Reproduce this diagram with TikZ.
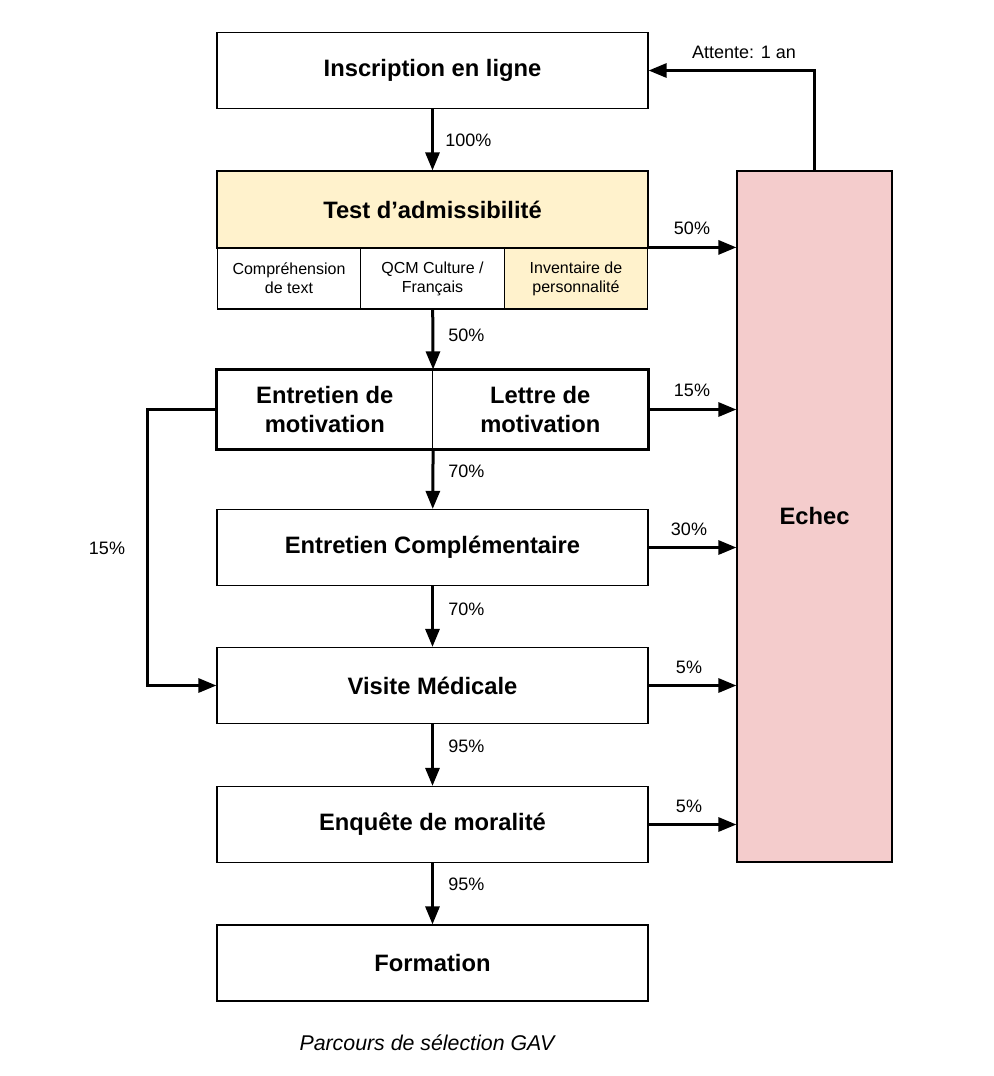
\documentclass[tikz,border=0pt]{standalone}
\usepackage{fontspec}
\setmainfont{Liberation Sans}
\usetikzlibrary{arrows.meta}

\definecolor{jaune}{HTML}{FFF2CC}
\definecolor{rose}{HTML}{F4CCCC}

\tikzset{
	etape/.style={shape=rectangle,draw=black,line width=0.9pt,inner sep=0pt,
		minimum width=323.25pt,minimum height=57pt,align=center,
		font=\fontsize{17.8}{21.75}\selectfont\bfseries},
	cellule/.style={shape=rectangle,draw=black,line width=0.9pt,inner sep=0pt,
		minimum width=107.75pt,minimum height=45.75pt,align=center,
		font=\fontsize{12}{14.25}\selectfont},
	fleche/.style={line width=2.25pt,-{Triangle[length=13.5pt,width=10.5pt]}},
	pct/.style={font=\fontsize{13.5}{16}\selectfont,inner sep=0pt}
}

\begin{document}
\begin{tikzpicture}[x=0.75pt,y=-0.75pt]
	\useasboundingbox (0,0) rectangle (994,1076);
	
	\node[etape] (ins) at (432.5, 70.5)     {Inscription en ligne};
	
	\node[etape,fill=jaune,minimum height=57.75pt] (test) at (432.5, 209.5)     {Test d’admissibilité};
	\node[cellule] (c1) at (289, 278.5)     {Compréhension\\de text};
	\node[cellule] (c2) at (432.5, 278.5)     {QCM Culture /\\Français};
	\node[cellule,fill=jaune] (c3) at (576, 278.5)     {Inventaire de\\personnalité};
	
	\node[etape,minimum width=161.6pt,minimum height=59.25pt] (em) at (324.75, 409.5)     {Entretien de\\motivation};
	\node[etape,minimum width=161.6pt,minimum height=59.25pt] (lm) at (540.25, 409.5)     {Lettre de\\motivation};
	\draw[line width=2.25pt] (em.north west) rectangle (lm.south east);
	
	\node[etape] (ec) at (432.5, 547.5)     {Entretien Complémentaire};
	\node[etape] (vm) at (432.5, 685.5)     {Visite Médicale};
	\node[etape] (enq) at (432.5, 824.5)     {Enquête de moralité};
	\node[etape] (form) at (432.5, 963)     {Formation};
	
	\node[etape,fill=rose,minimum width=116.25pt,minimum height=518.25pt] (echec) at (814.5, 516.5)     {Echec};
	
	\node[font=\fontsize{16}{19}\selectfont\itshape] (titre) at (427, 1043)     {Parcours de sélection GAV};

	% fleches vers le bas
	\draw[fleche] (ins) -- (test);
	\draw[fleche] (c2) -- (em.north east);
	\draw[fleche] (em.south east) -- (ec);
	\draw[fleche] (ec) -- (vm);
	\draw[fleche] (vm) -- (enq);
	\draw[fleche] (enq) -- (form);
	
	\node[pct,anchor=west] (p1) at (445, 140)     {100\%};
	\node[pct,anchor=west] (p2) at (448, 335)     {50\%};
	\node[pct,anchor=west] (p3) at (448, 471)     {70\%};
	\node[pct,anchor=west] (p4) at (448, 609)     {70\%};
	\node[pct,anchor=west] (p5) at (448, 746)     {95\%};
	\node[pct,anchor=west] (p6) at (448, 884)     {95\%};
	
	% fleches vers echec
	\draw[fleche] (c3.north east) -- (c3.north east -| echec.west);
	\draw[fleche] (lm.east) -- (lm.east -| echec.west);
	\draw[fleche] (ec.east) -- (ec.east -| echec.west);
	\draw[fleche] (vm.east) -- (vm.east -| echec.west);
	\draw[fleche] (enq.east) -- (enq.east -| echec.west);
	
	\node[pct] (e1) at (692, 228)     {50\%};
	\node[pct] (e2) at (692, 390)     {15\%};
	\node[pct] (e3) at (689, 529)     {30\%};
	\node[pct] (e4) at (689, 667)     {5\%};
	\node[pct] (e5) at (689, 806)     {5\%};
	
	% retour et raccourci
	\draw[fleche] (echec.north) |- (ins.east);
	\node[pct] (att) at (744, 52)     {Attente: 1 an};
	
	\draw[fleche] (em.west) -- ++(-69,0) |- (vm.west);
	\node[pct] (e6) at (107, 548)     {15\%};
\end{tikzpicture}
\end{document}
